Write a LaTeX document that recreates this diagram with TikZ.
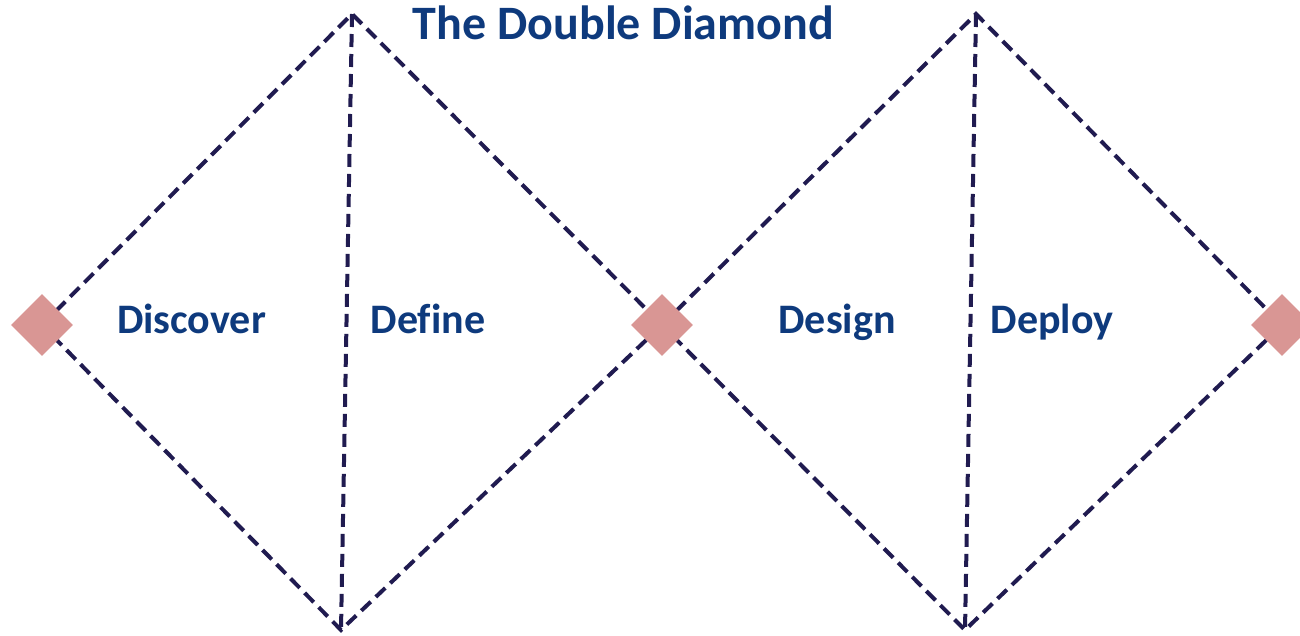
\documentclass[tikz,border=0pt]{standalone}
\usepackage{fontspec}
\setmainfont{Carlito}[Ligatures=NoCommon]
\usetikzlibrary{shapes.geometric,positioning}
\definecolor{ddline}{RGB}{32,27,80}
\definecolor{ddpink}{RGB}{217,150,148}
\definecolor{ddtext}{RGB}{14,58,125}
\newcommand{\phaselabel}[3]{\node[phase] (#1) at #2 {#3};}
\newcommand{\diamondedges}[4]{\draw[edge] (#1) -- (#2) -- (#4) -- (#3) -- cycle; \draw[edge] (#2) -- (#3);}

\begin{document}
\begin{tikzpicture}[x=1pt,y=-1pt,
  edge/.style={draw=ddline,line width=4pt,dash pattern=on 13pt off 7pt},
  marker/.style={diamond,fill=ddpink,minimum width=62pt,minimum height=62pt,inner sep=0pt},
  phase/.style={font=\bfseries\fontsize{42}{46}\selectfont,text=ddtext,anchor=base}]
\useasboundingbox (0,0) rectangle (1300,635);
% corner points
\coordinate (start) at (42,325);
\coordinate (top1) at (352,14);
\coordinate (bot1) at (341,630);
\coordinate (mid) at (662,325);
\coordinate (top2) at (976,14);
\coordinate (bot2) at (965,630);
\coordinate (finish) at (1282,325);
% dashed outlines
\diamondedges{start}{top1}{bot1}{mid}
\diamondedges{mid}{top2}{bot2}{finish}
% markers
\node[marker] (m1) at (start) {};
\node[marker] (m2) at (mid) {};
\node[marker] (m3) at (finish) {};
% labels
\node[font=\bfseries\fontsize{48}{50}\selectfont,text=ddtext,anchor=base] (title) at (623.5,39) {The Double Diamond};
\phaselabel{discover}{(191.5,333)}{Discover}
\phaselabel{define}{(428,333)}{Define}
\phaselabel{design}{(837,333)}{Design}
\phaselabel{deploy}{(1052,333)}{Deploy}
\end{tikzpicture}
\end{document}
